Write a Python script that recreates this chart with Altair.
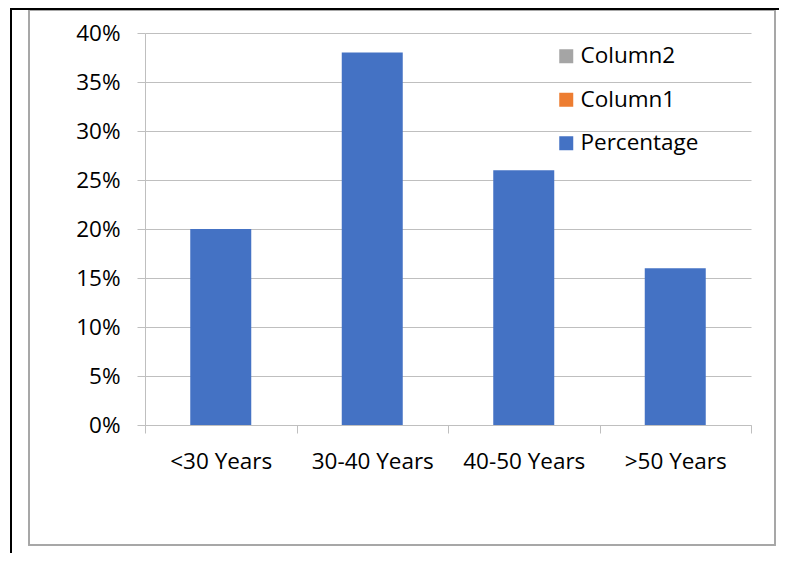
import altair as alt
import pandas as pd

categories = ["<30 Years", "30-40 Years", "40-50 Years", ">50 Years"]
percentages = [0.20, 0.38, 0.26, 0.16]
series_names = ["Column2", "Column1", "Percentage"]
series_colors = ["#A5A5A5", "#ED7D31", "#4472C4"]

df = pd.DataFrame({"cat": categories, "val": percentages, "series": ["Percentage"] * 4})

FONT = "Open Sans"
FS = 22.5
GRID = "#BFBFBF"

bars = alt.Chart(df).mark_bar(size=61).encode(
    x=alt.X("cat:N", sort=categories, title=None,
            scale=alt.Scale(paddingInner=0, paddingOuter=0),
            axis=alt.Axis(labelAngle=0, labelFont=FONT, labelFontSize=FS, labelColor="#000000",
                          tickBand="extent", tickSize=8, tickColor=GRID, domainColor=GRID,
                          labelPadding=17, grid=False)),
    y=alt.Y("val:Q", title=None,
            scale=alt.Scale(domain=[0, 0.4], nice=False),
            axis=alt.Axis(format=".0%", values=[i * 0.05 for i in range(9)], labelFont=FONT,
                          labelFontSize=FS, labelColor="#000000", tickSize=8, tickColor=GRID,
                          domainColor=GRID, gridColor=GRID, labelPadding=17)),
    color=alt.Color("series:N",
                    scale=alt.Scale(domain=series_names, range=series_colors),
                    legend=alt.Legend(title=None, orient="none", legendX=410, legendY=12,
                                      symbolType="square", symbolSize=196, symbolStrokeWidth=0,
                                      labelFont=FONT, labelFontSize=FS, labelColor="#000000",
                                      rowPadding=20.5, symbolOffset=0, labelOffset=3)),
)

box = alt.Chart(df).mark_rect(fill=None, stroke="#A6A6A6", strokeWidth=1.5).encode(
    x=alt.value(-116), x2=alt.value(630), y=alt.value(-23), y2=alt.value(512)
)
black_left = alt.Chart(df).mark_rule(color="#000000", strokeWidth=2).encode(
    x=alt.value(-134), y=alt.value(-25), y2=alt.value(600)
)
black_top = alt.Chart(df).mark_rule(color="#000000", strokeWidth=2).encode(
    x=alt.value(-134), x2=alt.value(700), y=alt.value(-24)
)

chart = alt.layer(box, black_left, black_top, bars).properties(
    width=606, height=392,
    padding={"left": 137, "top": 25, "right": 28, "bottom": 128},
    autosize=alt.AutoSizeParams(type="none"),
).configure_view(stroke=None)

chart.save("out.html", embed_options={"renderer": "svg", "actions": False})
